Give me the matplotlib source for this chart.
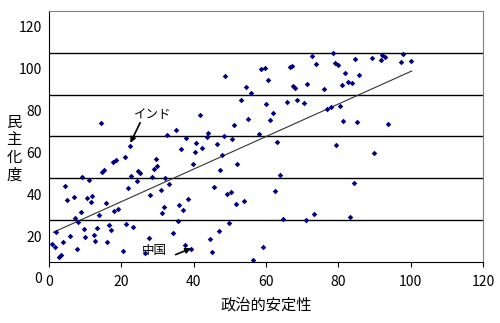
import matplotlib
matplotlib.use("Agg")
import matplotlib.pyplot as plt
import matplotlib.transforms as mtransforms

plt.rcParams["font.family"] = ["Noto Sans CJK JP", "DejaVu Sans"]

# political stability (x) vs. degree of democratization (y)
stability = [
    14.4, 22.4, 32.7, 35.1, 36.5, 37.9, 40.7, 41.7, 42.2, 43.6,
    44.1, 46.4, 48.3, 48.8, 50.7, 51.1, 53.0, 54.4, 54.9, 55.9,
    58.1, 58.6, 59.6, 60.1, 60.6, 61.0, 62.0, 63.0, 65.8, 66.5,
    67.2, 72.8, 78.5, 84.6, 89.4, 92.1, 92.8, 91.8, 97.8, 97.4,
    100.2, 73.8, 79.0, 79.9, 81.8, 85.6, 67.6, 68.1, 71.4, 76.1,
    80.9, 82.8, 83.8, 68.6, 70.5, 77.0, 78.1, 80.4, 81.3, 85.1,
    93.6, 79.3, 89.8, 84.2, 73.3, 71.0, 83.2, 64.8, 63.9, 62.5,
    59.1, 56.3, 40.3, 47.8, 39.8, 47.4, 52.1, 32.1, 33.2, 45.5,
    49.3, 50.2, 38.4, 35.9, 37.0, 51.6, 54.0, 31.7, 35.6, 49.7,
    34.2, 46.9, 44.5, 37.5, 39.3, 45.0, 29.5, 18.6, 17.7, 21.0,
    28.9, 29.9, 14.7, 15.2, 24.5, 25.2, 22.8, 28.5, 9.1, 11.0,
    24.2, 4.4, 21.8, 30.9, 28.0, 6.8, 10.5, 12.0, 4.9, 11.5,
    15.8, 31.2, 19.1, 18.1, 8.8, 13.8, 7.3, 8.1, 2.0, 9.6,
    13.4, 16.7, 17.1, 21.4, 23.2, 5.8, 10.0, 12.4, 12.8, 4.0,
    16.0, 27.6, 0.9, 1.6, 7.7, 20.4, 2.8, 3.4, 26.6,
]
democracy = [
    66.6, 55.4, 60.9, 63.3, 54.2, 59.1, 56.9, 70.4, 54.5, 59.7,
    61.7, 56.3, 60.2, 88.9, 58.8, 65.5, 77.3, 83.7, 68.5, 80.6,
    61.2, 92.3, 92.7, 75.4, 87.0, 67.9, 71.4, 57.4, 76.7, 93.2,
    93.5, 98.6, 100.1, 97.0, 97.7, 98.9, 98.0, 96.6, 99.6, 95.6,
    96.1, 94.6, 95.1, 94.2, 90.2, 89.4, 84.0, 83.0, 84.9, 82.5,
    84.5, 85.9, 85.4, 77.6, 76.2, 73.1, 74.1, 74.7, 67.5, 66.9,
    66.0, 55.8, 52.0, 37.9, 22.9, 20.0, 21.5, 20.4, 41.7, 34.1,
    7.3, 1.1, 52.6, 51.1, 46.7, 44.1, 47.0, 40.0, 37.4, 36.0,
    32.7, 33.6, 30.3, 27.2, 24.9, 27.7, 29.2, 26.3, 19.6, 18.5,
    13.7, 14.8, 10.8, 7.9, 6.0, 4.9, 49.1, 48.6, 47.6, 50.0,
    44.5, 46.0, 42.9, 43.8, 43.5, 42.5, 41.3, 40.8, 40.5, 39.3,
    38.9, 36.3, 35.5, 34.6, 32.0, 31.1, 30.8, 31.7, 29.8, 28.8,
    28.2, 23.4, 25.5, 24.4, 23.9, 22.5, 21.0, 19.0, 14.3, 15.6,
    16.3, 17.5, 15.1, 18.2, 16.7, 12.3, 11.8, 12.8, 10.2, 9.7,
    9.4, 11.3, 8.5, 7.0, 6.4, 5.4, 2.5, 3.5, 4.1,
]

# trendline end points as drawn in the chart
trend_x = [1.2, 100.3]
trend_y = [14.2, 91.3]

xticks = [0, 20, 40, 60, 80, 100, 120]
yticks = [0, 20, 40, 60, 80, 100, 120]

fig = plt.figure(figsize=(5.0, 3.23), dpi=100)
ax = fig.add_axes([0.098, 0.189, 0.868, 0.777])

ax.plot(trend_x, trend_y, color="#333333", lw=0.8, zorder=2)
ax.scatter(stability, democracy, marker="D", s=8, color="#000080",
           linewidths=0, zorder=3)

ax.set_xlim(0, 120)
ax.set_ylim(0, 120)
ax.set_xticks(xticks)
ax.set_yticks(yticks)
ax.tick_params(axis="x", direction="out", length=3.5, width=0.8,
               pad=6, labelsize=10)
ax.tick_params(axis="y", length=0, pad=5, labelsize=10)

# horizontal gridlines (not on the frame itself)
ax.grid(axis="y", color="black", lw=1.0, zorder=1)
gls = ax.get_ygridlines()
gls[0].set_visible(False)
gls[-1].set_visible(False)

for side in ["top", "right"]:
    ax.spines[side].set_color("#808080")
for side in ["left", "bottom"]:
    ax.spines[side].set_color("black")

# y labels sit a bit below their gridlines in the original
shift = mtransforms.ScaledTranslation(0, -0.16, fig.dpi_scale_trans)
for lab in ax.get_yticklabels():
    lab.set_transform(lab.get_transform() + shift)

ax.set_xlabel("政治的安定性", fontsize=11, labelpad=5)
fig.text(0.028, 0.54, "民\n主\n化\n度", fontsize=11, ha="center",
         va="center", linespacing=1.05)

# annotations
ax.text(28.8, 70.5, "インド", fontsize=9, ha="center", va="center")
ax.annotate("", xy=(22.5, 56.9), xytext=(25.2, 66.6),
            arrowprops=dict(arrowstyle="-|>", color="black", lw=1.2,
                            mutation_scale=8, shrinkA=0, shrinkB=0))
ax.text(29.0, 5.5, "中国", fontsize=9, ha="center", va="center")
ax.annotate("", xy=(39.3, 6.5), xytext=(35.0, 3.5),
            arrowprops=dict(arrowstyle="-|>", color="black", lw=1.2,
                            mutation_scale=8, shrinkA=0, shrinkB=0))

fig.savefig("out.png", dpi=100)
